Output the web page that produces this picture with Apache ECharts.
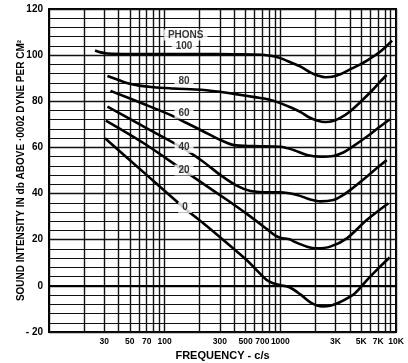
<!DOCTYPE html>
<html><head><meta charset="utf-8">
<script src="https://cdn.jsdelivr.net/npm/echarts@6/dist/echarts.min.js"></script>
<style>html,body{margin:0;padding:0;background:#fff}#c{width:408px;height:363px}</style>
</head><body><div id="c"></div>
<script>
// Frequency grid lines (c/s)
const gridFreqs = [10,20,30,40,50,60,70,80,90,100,200,300,400,500,600,700,800,900,1000,2000,3000,4000,5000,6000,7000,8000,9000,10000];
// Frequency tick labels
const xTickValues = [30,50,70,100,300,500,700,1000,3000,5000,7000,10000];
const xTickLabels = ['30','50','70','100','300','500','700','1000','3K','5K','7K','10K'];
// Intensity tick labels
const yTickValues = [-20,0,20,40,60,80,100,120];
const yTickLabels = ['- 20','0','20','40','60','80','100','120'];

// Equal-loudness curves: [frequency c/s, dB]
const phon100 = [[25,102],[28,101.2],[32,100.7],[50,100.5],[100,100.5],[200,100.5],[400,100.4],[700,100.2],[850,99.6],[1000,98.7],[1250,96.7],[1500,95],[1850,92.3],[2100,91.2],[2450,90.4],[2800,90.6],[3300,91.7],[4000,93.8],[5000,96.2],[6000,98.6],[7000,100.8],[8000,103.2],[9250,106.3]];
const phon80 = [[32,91],[40,89.2],[48,87.8],[60,86.8],[80,86.1],[113,85.6],[150,85.3],[218,84.9],[300,84.1],[424,83],[600,81.8],[780,80.9],[1000,79.2],[1250,77.2],[1500,75.3],[1750,73.2],[2070,71.7],[2450,71],[2800,71.3],[3300,72.8],[4000,75.6],[5000,80],[6300,85],[7300,88.5],[8300,91.4]];
const phon60 = [[34,84.5],[66,78.8],[113,74],[150,70.9],[191,68.3],[250,65.3],[304,63.2],[396,61],[589,60.6],[1000,60.3],[1300,58.9],[1700,56.7],[2210,56],[2880,56.3],[3500,57.8],[4010,59.6],[5580,64.6],[7000,68.4],[8870,72.2]];
const phon40 = [[32,77.7],[66,69],[137,60.3],[217,53.7],[304,48],[424,43.3],[552,41.1],[820,40.5],[1000,40.6],[1400,39.4],[1815,37.4],[2210,36.6],[2880,37.2],[3400,39],[4010,41.5],[5580,47.3],[7000,51.5],[8320,54.5]];
const phon20 = [[31,71.6],[66,61.8],[137,51],[218,44.1],[347,37.2],[516,31.1],[767,24.6],[906,21.8],[1000,20.9],[1220,20.1],[1300,19.3],[1700,17],[2070,16.3],[2700,17],[3760,20.6],[5580,28.5],[8590,35.8]];
const phon0 = [[30.5,64],[65.5,49.3],[144,34.2],[216,27.1],[321,19.9],[511,11.2],[762,2.5],[869,1.1],[1000,0.3],[1200,-0.6],[1500,-3.8],[1850,-7.4],[2300,-8.9],[2750,-8.5],[3300,-7],[4400,-3.3],[5600,2.5],[7000,7.5],[8800,12.3]];

// Curve labels: [frequency, dB, text]
const phonLabels = [[152,108.7,'PHONS'],[147,104,'100'],[147,88.8,'80'],[147,74.8,'60'],[147,60,'40'],[147,50.2,'20'],[150,34,'0']];

const curves = [phon100, phon80, phon60, phon40, phon20, phon0];
const chart = echarts.init(document.getElementById('c'), null, {renderer:'canvas'});
const ink = '#111';
const lineSeries = curves.map(d => ({
  type:'line', data:d, showSymbol:false, smooth:0.3,
  lineStyle:{color:'#000', width:2.6}, z:3, silent:true
}));
chart.setOption({
  animation:false,
  backgroundColor:'#fff',
  grid:{left:49, right:12, top:9, bottom:31, show:true, borderColor:'#000', borderWidth:2, containLabel:false, outerBoundsMode:'none'},
  xAxis:{
    type:'log', logBase:10, min:10, max:10000,
    name:'FREQUENCY - c/s', nameLocation:'middle', nameGap:18, nameMoveOverlap:false,
    nameTextStyle:{fontFamily:'Liberation Sans', fontWeight:'bold', fontSize:11, color:'#000'},
    axisLine:{show:true, lineStyle:{color:'#000', width:2}},
    axisTick:{show:false, customValues:gridFreqs},
    splitLine:{show:true, lineStyle:{color:ink, width:1.4}},
    axisLabel:{customValues:xTickValues, margin:5, color:'#000', fontFamily:'Liberation Sans', fontWeight:'bold', fontSize:8.5,
      formatter:v => { const i = xTickValues.findIndex(t => Math.abs(t - v) / t < 1e-6); return i >= 0 ? xTickLabels[i] : ''; }}
  },
  yAxis:{
    type:'value', min:-20, max:120, interval:20,
    name:'SOUND INTENSITY IN db ABOVE ·0002 DYNE PER CM²', nameLocation:'middle', nameGap:23, nameRotate:90, nameMoveOverlap:false,
    nameTextStyle:{fontFamily:'Liberation Sans', fontWeight:'bold', fontSize:10, color:'#000'},
    axisLine:{show:true, lineStyle:{color:'#000', width:2}},
    axisTick:{show:false},
    splitLine:{show:true, lineStyle:{color:ink, width:1.4}},
    minorTick:{show:false, splitNumber:5},
    minorSplitLine:{show:true, lineStyle:{color:ink, width:1.2}},
    axisLabel:{margin:6, color:'#000', fontFamily:'Liberation Sans', fontWeight:'bold', fontSize:10,
      formatter:v => { const i = yTickValues.indexOf(Math.round(v)); return i >= 0 ? yTickLabels[i] : ''; }}
  },
  series: lineSeries.concat([{
    type:'scatter', data:phonLabels, symbolSize:0, z:5, silent:true,
    label:{show:true, position:'inside', formatter:p => p.data[2], color:'#000', fontFamily:'Liberation Sans', fontWeight:'bold', fontSize:10,
      backgroundColor:'#fff', padding:[1,4,0,4]}
  }])
});
</script></body></html>
